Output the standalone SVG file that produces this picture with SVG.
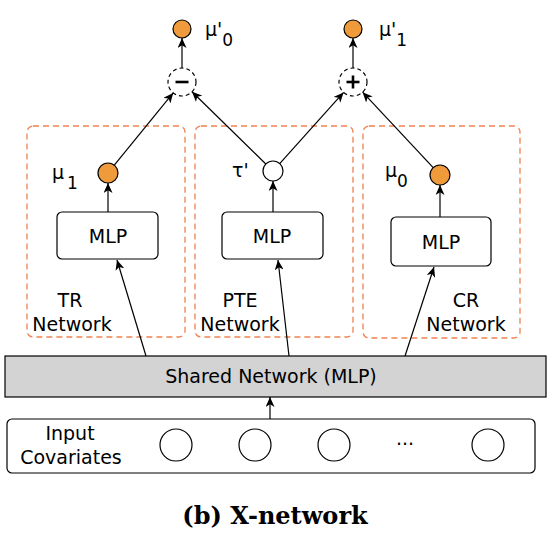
<svg xmlns="http://www.w3.org/2000/svg" width="552" height="544" viewBox="0 0 552 544">
<style>
.t{font-family:"DejaVu Sans",sans-serif;font-size:19px;fill:#000}
.m{text-anchor:middle}
.grp{fill:none;stroke:#ee8350;stroke-width:1.3;stroke-dasharray:6,4}
.box{fill:#fff;stroke:#000;stroke-width:1.2}
.org{fill:#ef9a3b;stroke:#000;stroke-width:1.2}
.wc{fill:#fff;stroke:#000;stroke-width:1.2}
.op{fill:#fff;stroke:#000;stroke-width:1.2;stroke-dasharray:4,3}
.ln{fill:none;stroke:#000;stroke-width:1.2;marker-end:url(#ah)}
.sym{stroke:#000;stroke-width:2.6}
</style>
<defs>
<marker id="ah" markerUnits="userSpaceOnUse" markerWidth="10" markerHeight="9" refX="10" refY="4.5" orient="auto">
<path d="M0,0 L10,4.5 L0,9 L2.8,4.5 z" fill="#000"/>
</marker>
</defs>
<rect width="552" height="544" fill="#fff"/>

<g id="tr-network">
<rect class="grp" x="27" y="126" width="158" height="211" rx="6"/>
<text class="t m" x="70" y="307">TR</text>
<text class="t m" x="72" y="331">Network</text>
</g>
<g id="pte-network">
<rect class="grp" x="195" y="126" width="158" height="211" rx="6"/>
<text class="t m" x="240" y="307">PTE</text>
<text class="t m" x="240" y="331">Network</text>
</g>
<g id="cr-network">
<rect class="grp" x="363" y="126" width="157" height="212" rx="6"/>
<text class="t m" x="466" y="307">CR</text>
<text class="t m" x="466" y="331">Network</text>
</g>

<g id="mlp-tr">
<rect class="box" x="57" y="212" width="101" height="47" rx="5"/>
<text class="t m" x="108" y="243">MLP</text>
</g>
<g id="mlp-pte">
<rect class="box" x="222" y="212" width="101" height="47" rx="5"/>
<text class="t m" x="272" y="243">MLP</text>
</g>
<g id="mlp-cr">
<rect class="box" x="391" y="217" width="100" height="49" rx="5"/>
<text class="t m" x="441" y="249">MLP</text>
</g>

<g id="mu1">
<circle class="org" cx="108" cy="173" r="10"/>
<text class="t" x="52" y="179">μ<tspan font-size="17" dx="3" dy="10">1</tspan></text>
</g>
<g id="tau">
<circle class="wc" cx="273" cy="171" r="10"/>
<text class="t" x="232" y="177">τ'</text>
</g>
<g id="mu0">
<circle class="org" cx="440" cy="175" r="10"/>
<text class="t" x="385" y="177">μ<tspan font-size="17" dy="10">0</tspan></text>
</g>

<g id="minus">
<circle class="op" cx="182" cy="82" r="14"/>
<line class="sym" x1="175.5" y1="82" x2="188.5" y2="82"/>
</g>
<g id="plus">
<circle class="op" cx="353" cy="82" r="14"/>
<line class="sym" x1="346.5" y1="82" x2="359.5" y2="82"/>
<line class="sym" x1="353" y1="75.5" x2="353" y2="88.5"/>
</g>

<g id="mu0-prime">
<circle class="org" cx="182" cy="29" r="9"/>
<text class="t" x="205" y="36">μ'<tspan font-size="17" dy="10">0</tspan></text>
</g>
<g id="mu1-prime">
<circle class="org" cx="353" cy="29" r="9"/>
<text class="t" x="379" y="36">μ'<tspan font-size="17" dy="10">1</tspan></text>
</g>

<g id="shared">
<rect x="5" y="356" width="541" height="41" fill="#d3d3d3" stroke="#000" stroke-width="1.2"/>
<text class="t m" x="271" y="383">Shared Network (MLP)</text>
</g>

<g id="input">
<rect class="box" x="7" y="419" width="528" height="54" rx="5"/>
<text class="t m" x="70" y="440">Input</text>
<text class="t m" x="71" y="464">Covariates</text>
<circle class="wc" cx="176" cy="445" r="16"/>
<circle class="wc" cx="255" cy="445" r="16"/>
<circle class="wc" cx="334" cy="445" r="16"/>
<text class="t m" x="405" y="445" font-size="15">...</text>
<circle class="wc" cx="488" cy="445" r="16"/>
</g>

<g id="connectors">
<line class="ln" x1="270" y1="419" x2="270" y2="397"/>
<line class="ln" x1="146" y1="356" x2="117" y2="260"/>
<line class="ln" x1="289" y1="356" x2="278" y2="260"/>
<line class="ln" x1="405" y1="356" x2="434" y2="267"/>
<line class="ln" x1="108" y1="212" x2="108" y2="183"/>
<line class="ln" x1="273" y1="212" x2="273" y2="181"/>
<line class="ln" x1="440" y1="217" x2="440" y2="185"/>
<line class="ln" x1="114.3" y1="165.2" x2="173.2" y2="92.9"/>
<line class="ln" x1="265.8" y1="164" x2="192" y2="91.8"/>
<line class="ln" x1="279.7" y1="163.6" x2="343.6" y2="92.4"/>
<line class="ln" x1="433.2" y1="167.7" x2="362.6" y2="92.2"/>
<line class="ln" x1="182" y1="68" x2="182" y2="38"/>
<line class="ln" x1="353" y1="68" x2="353" y2="38"/>
</g>

<text x="275" y="524" font-family="'DejaVu Serif',serif" font-weight="bold" font-size="24" text-anchor="middle">(b) X-network</text>
</svg>
